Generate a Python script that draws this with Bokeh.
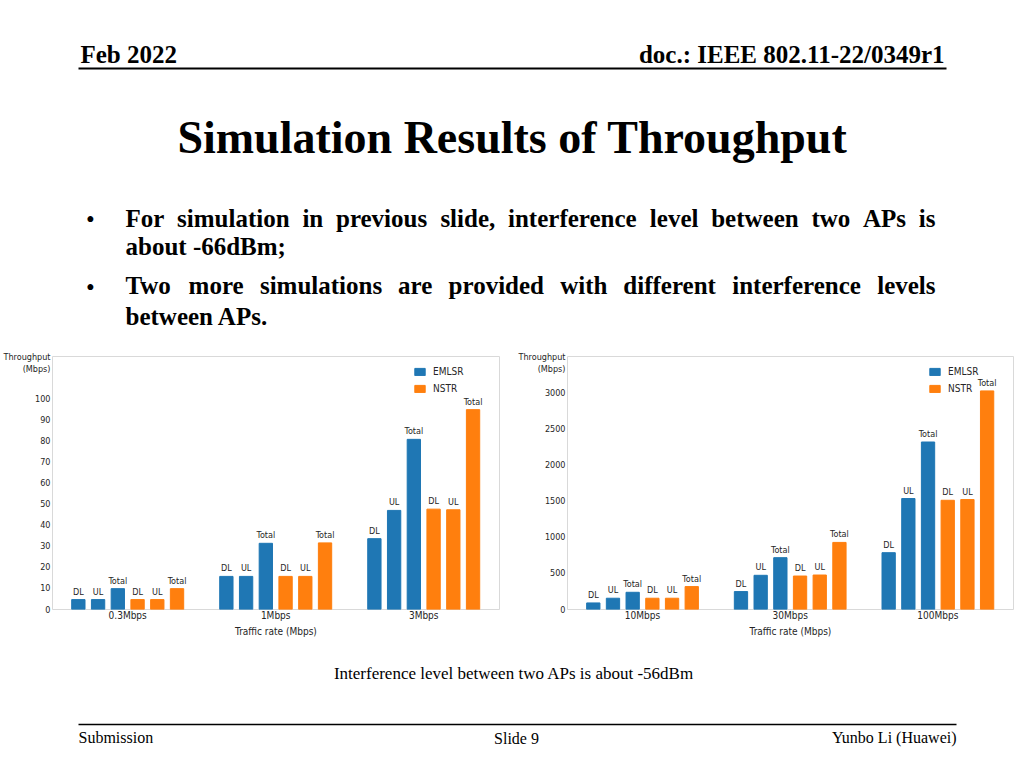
from bokeh.plotting import figure
from bokeh.models import Range1d, FixedTicker, ColumnDataSource
from bokeh.layouts import column, row
from bokeh.embed import file_html
from bokeh.resources import INLINE
from bokeh.core.properties import value

# ---------------- data ----------------
chart1_groups = ["0.3Mbps", "1Mbps", "3Mbps"]
chart1_emlsr_dl = [4.7, 15.7, 33.6]
chart1_emlsr_ul = [4.7, 15.7, 47.0]
chart1_emlsr_total = [9.9, 31.4, 80.7]
chart1_nstr_dl = [4.7, 15.7, 47.6]
chart1_nstr_ul = [4.7, 15.7, 47.3]
chart1_nstr_total = [9.9, 31.6, 94.8]
chart1_yticks = [0, 10, 20, 30, 40, 50, 60, 70, 80, 90, 100]

chart2_groups = ["10Mbps", "30Mbps", "100Mbps"]
chart2_emlsr_dl = [91, 248, 786]
chart2_emlsr_ul = [156, 473, 1535]
chart2_emlsr_total = [238, 717, 2317]
chart2_nstr_dl = [156, 463, 1511]
chart2_nstr_ul = [156, 477, 1521]
chart2_nstr_total = [317, 928, 3024]
chart2_yticks = [0, 500, 1000, 1500, 2000, 2500, 3000]

bar_kinds = ["DL", "UL", "Total"]
series_names = ["EMLSR", "NSTR"]
series_colors = ["#1f77b4", "#ff7f0e"]
y_title_lines = ["Throughput", "(Mbps)"]
x_title = "Traffic rate (Mbps)"

header_left = "Feb 2022"
header_right = "doc.: IEEE 802.11-22/0349r1"
title_text = "Simulation Results of Throughput"
bullet1_line1 = "For simulation in previous slide, interference level between two APs is"
bullet1_line2 = "about -66dBm;"
bullet2_line1 = "Two more simulations are provided with different interference levels"
bullet2_line2 = "between APs."
caption_text = "Interference level between two APs is about -56dBm"
footer_left = "Submission"
footer_mid = "Slide 9"
footer_right = "Yunbo Li (Huawei)"

# ---------------- styles ----------------
CHART_FONT = "DejaVu Sans Condensed, Liberation Sans Narrow, DejaVu Sans"
SERIF = "Liberation Serif"
SLOT = 1 / 7.5
BAR_W = 0.09
FRAME_COLOR = "#d9d9d9"
TEXT_DARK = "#262626"
FRAME_H = 253

TIMES_BOLD = {
    ' ': 250, ',': 250, '.': 250, '-': 333, ';': 333, ':': 333,
    'A': 722, 'B': 667, 'P': 611, 'F': 611, 'T': 667,
    'a': 500, 'b': 556, 'c': 444, 'd': 556, 'e': 444, 'f': 333, 'g': 500,
    'h': 556, 'i': 278, 'l': 278, 'm': 833, 'n': 556, 'o': 500, 'p': 556,
    'r': 444, 's': 389, 't': 333, 'u': 556, 'v': 500, 'w': 722,
}


def make_chart(groups, emlsr, nstr, y_end, yticks, border_left, border_right, width):
    p = figure(width=width, height=300, x_range=Range1d(-0.508, 2.512),
               y_range=Range1d(0, y_end), output_backend="svg",
               toolbar_location=None, min_border_left=border_left,
               min_border_right=border_right, min_border_top=11,
               min_border_bottom=36)
    p.outline_line_color = FRAME_COLOR
    p.grid.visible = False
    for s, series in enumerate([emlsr, nstr]):
        xs, tops, labels = [], [], []
        for g in range(len(groups)):
            for k, kind in enumerate(bar_kinds):
                xs.append(g + (s * 3 + k - 2.5) * SLOT)
                tops.append(series[k][g])
                labels.append(kind)
        src = ColumnDataSource(dict(x=xs, top=tops, label=labels))
        p.vbar(x="x", top="top", width=BAR_W, source=src,
               color=series_colors[s], legend_label=series_names[s])
        p.text(x="x", y="top", text="label", source=src, text_align="center",
               text_baseline="bottom", y_offset=-3, text_font_size="9px",
               text_font=value(CHART_FONT), text_color=TEXT_DARK)

    p.xaxis.ticker = FixedTicker(ticks=list(range(len(groups))))
    p.xaxis.major_label_overrides = {i: g for i, g in enumerate(groups)}
    p.xaxis.axis_label = x_title

    # y ticks plus the two-line axis title, drawn as right-aligned tick labels
    per_px = y_end / FRAME_H
    t1 = y_end - 0.5 * per_px
    t2 = y_end - 12 * per_px
    p.yaxis.ticker = FixedTicker(ticks=list(yticks) + [t2, t1])
    p.yaxis.major_label_overrides = {t1: y_title_lines[0], t2: y_title_lines[1]}

    for ax in (p.xaxis, p.yaxis):
        ax.axis_line_color = None
        ax.major_tick_line_color = None
        ax.minor_tick_line_color = None
        ax.major_tick_out = 0
        ax.major_tick_in = 0
        ax.minor_tick_out = 0
        ax.minor_tick_in = 0
        ax.major_label_text_font = CHART_FONT
        ax.major_label_text_color = TEXT_DARK
    p.yaxis.major_label_text_font_size = "9px"
    p.xaxis.major_label_text_font_size = "10px"
    p.yaxis.major_label_standoff = 2
    p.xaxis.major_label_standoff = 0
    p.xaxis.axis_label_text_font = CHART_FONT
    p.xaxis.axis_label_text_font_size = "10px"
    p.xaxis.axis_label_text_font_style = "normal"
    p.xaxis.axis_label_text_color = TEXT_DARK
    p.xaxis.axis_label_standoff = 2

    p.legend.location = (361, 215)
    p.legend.border_line_color = None
    p.legend.background_fill_alpha = 0
    p.legend.padding = 0
    p.legend.margin = 0
    p.legend.spacing = 5
    p.legend.glyph_width = 13
    p.legend.glyph_height = 9
    p.legend.label_height = 12
    p.legend.label_standoff = 7
    p.legend.label_text_font = CHART_FONT
    p.legend.label_text_font_size = "10px"
    p.legend.label_text_color = TEXT_DARK
    return p


def blank(width, height, y_top, y_bottom):
    p = figure(width=width, height=height, x_range=Range1d(0, width),
               y_range=Range1d(y_bottom, y_top), output_backend="svg",
               toolbar_location=None, x_axis_type=None, y_axis_type=None,
               min_border=0)
    p.grid.visible = False
    p.outline_line_color = None
    return p


def put(p, x, y, text, size, bold=False, align="left"):
    p.text(x=[x], y=[y], text=[text], text_font=value(SERIF),
           text_font_size=f"{size}px",
           text_font_style="bold" if bold else "normal",
           text_align=align, text_baseline="middle", text_color="black")


def justified(p, line, x0, x1, y, size):
    words = line.split(" ")
    widths = [sum(TIMES_BOLD.get(c, 500) for c in w) * size / 1000 for w in words]
    gap = (x1 - x0 - sum(widths)) / (len(words) - 1)
    x = x0
    for i, w in enumerate(words):
        if i == len(words) - 1:
            put(p, x1, y, w, size, bold=True, align="right")
        else:
            put(p, x, y, w, size, bold=True)
        x += widths[i] + gap


# ---------------- header ----------------
hdr = blank(1016, 345, 0, 345)
put(hdr, 80, 53.5, header_left, 25, bold=True)
put(hdr, 944, 53.5, header_right, 25, bold=True, align="right")
hdr.segment(x0=[78], y0=[68], x1=[946], y1=[68], line_width=2, line_color="black")
put(hdr, 512, 137, title_text, 46, bold=True, align="center")
BSIZE = 25
put(hdr, 90, 219, "\u2022", BSIZE, align="center")
justified(hdr, bullet1_line1, 125, 935, 217.5, BSIZE)
put(hdr, 125, 246, bullet1_line2, BSIZE, bold=True)
put(hdr, 90, 287, "\u2022", BSIZE, align="center")
justified(hdr, bullet2_line1, 125, 935, 285, BSIZE)
put(hdr, 125, 316, bullet2_line2, BSIZE, bold=True)

# ---------------- charts ----------------
c1 = make_chart(chart1_groups,
                [chart1_emlsr_dl, chart1_emlsr_ul, chart1_emlsr_total],
                [chart1_nstr_dl, chart1_nstr_ul, chart1_nstr_total],
                120, chart1_yticks, 50, 16, 515)
c2 = make_chart(chart2_groups,
                [chart2_emlsr_dl, chart2_emlsr_ul, chart2_emlsr_total],
                [chart2_nstr_dl, chart2_nstr_ul, chart2_nstr_total],
                3500, chart2_yticks, 50, 3, 501)

# ---------------- footer ----------------
ftr = blank(1016, 115, 645, 760)
put(ftr, 513.5, 673, caption_text, 17, align="center")
ftr.segment(x0=[78], y0=[724], x1=[956], y1=[724], line_width=1.5, line_color="black")
put(ftr, 78, 737, footer_left, 16)
put(ftr, 516, 738, footer_mid, 16, align="center")
put(ftr, 956, 737, footer_right, 16, align="right")

layout = column(hdr, row(c1, c2), ftr)
open("out.html", "w").write(file_html(layout, INLINE))
